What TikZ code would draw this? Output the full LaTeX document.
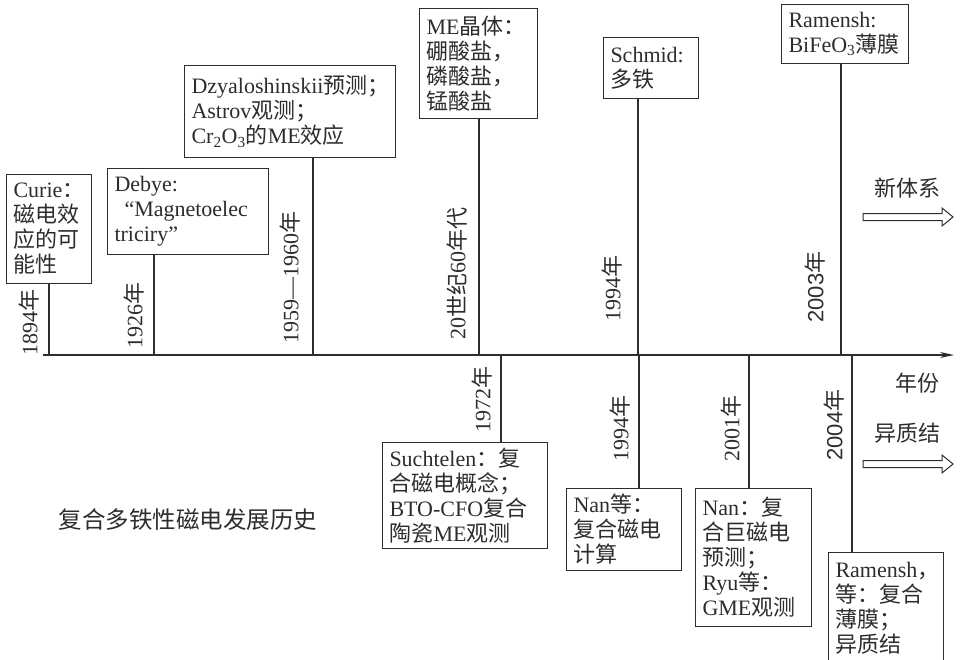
\documentclass[tikz,border=0pt]{standalone}
\usepackage{fontspec}
\setmainfont{Liberation Serif}
\newfontfamily\cjk{Noto Sans CJK SC}
\newfontfamily\lsans{Liberation Sans}
\newcommand\zh[1]{{\cjk #1}}
\usetikzlibrary{arrows.meta}
\definecolor{ink}{RGB}{45,45,45}
\begin{document}
\begin{tikzpicture}[x=1pt,y=-1pt,
  font=\fontsize{22}{25}\selectfont,
  every node/.style={text=ink},
  box/.style={draw=ink, line width=1pt, anchor=north west, align=left, inner xsep=7pt, inner ysep=0pt},
  stem/.style={draw=ink, line width=1.6pt},
  yr/.style={rotate=90, inner sep=0pt},
  hollow/.style={draw=ink, line width=1pt}]
\useasboundingbox (0,0) rectangle (963,659);

% axis
\coordinate (axs) at (43,355);
\coordinate (axe) at (954,355);
\draw[stem, -{Stealth[length=14pt,width=6pt]}] (axs) -- (axe);

% upper boxes
\node[box, minimum width=85pt, minimum height=109pt, text width=71pt] (curie) at (6,174)
  {Curie\zh{：}\\\zh{磁电效}\\\zh{应的可}\\\zh{能性}};
\node[box, minimum width=161pt, minimum height=86pt, text width=147pt] (debye) at (107,168)
  {Debye:\\\hspace*{10pt}“Magnetoelec\\triciry”};
\node[box, minimum width=211pt, minimum height=92pt, text width=197pt] (dzy) at (184,65)
  {Dzyaloshinskii\zh{预测；}\\Astrov\zh{观测；}\\Cr\textsubscript{2}O\textsubscript{3}\zh{的}ME\zh{效应}};
\node[box, minimum width=118pt, minimum height=110pt, text width=104pt] (me) at (419,8)
  {ME\zh{晶体：}\\\zh{硼酸盐，}\\\zh{磷酸盐，}\\\zh{锰酸盐}};
\node[box, minimum width=95pt, minimum height=61pt, text width=81pt] (schmid) at (603,37)
  {Schmid:\\\zh{多铁}};
\node[box, minimum width=127pt, minimum height=59pt, text width=113pt] (ramtop) at (781,4)
  {Ramensh:\\BiFeO\textsubscript{3}\zh{薄膜}};

% lower boxes
\node[box, minimum width=165pt, minimum height=106pt, text width=151pt] (such) at (382,442)
  {Suchtelen\zh{：复}\\\zh{合磁电概念；}\\BTO-CFO\zh{复合}\\\zh{陶瓷}ME\zh{观测}};
\node[box, minimum width=115pt, minimum height=82pt, text width=101pt] (nanA) at (566,488)
  {Nan\zh{等：}\\\zh{复合磁电}\\\zh{计算}};
\node[box, minimum width=116pt, minimum height=138pt, text width=102pt] (nanB) at (695,488)
  {Nan\zh{：复}\\\zh{合巨磁电}\\\zh{预测；}\\Ryu\zh{等：}\\GME\zh{观测}};
\node[box, minimum width=115pt, minimum height=112pt, text width=101pt] (ramB) at (828,552)
  {Ramensh\zh{，}\\\zh{等：复合}\\\zh{薄膜；}\\\zh{异质结}};

% stems
\coordinate (t1894) at (49,355);
\coordinate (t1926) at (154,355);
\coordinate (t1959) at (313,355);
\coordinate (t1960s) at (479,355);
\coordinate (t1994u) at (638,355);
\coordinate (t2003) at (841,355);
\coordinate (t1972) at (501,355);
\coordinate (t1994d) at (639,355);
\coordinate (t2001) at (749,355);
\coordinate (t2004) at (852,355);
\draw[stem] (t1894) -- (t1894 |- curie.south);
\draw[stem] (t1926) -- (t1926 |- debye.south);
\draw[stem] (t1959) -- (t1959 |- dzy.south);
\draw[stem] (t1960s) -- (t1960s |- me.south);
\draw[stem] (t1994u) -- (t1994u |- schmid.south);
\draw[stem] (t2003) -- (t2003 |- ramtop.south);
\draw[stem] (t1972) -- (t1972 |- such.north);
\draw[stem] (t1994d) -- (t1994d |- nanA.north);
\draw[stem] (t2001) -- (t2001 |- nanB.north);
\draw[stem] (t2004) -- (t2004 |- ramB.north);

% year labels
\node[yr] (y1894) at (29,322) {1894\zh{年}};
\node[yr] (y1926) at (134,315) {1926\zh{年}};
\node[yr] (y1959) at (290,277) {1959—1960\zh{年}};
\node[yr] (y1960s) at (457,273) {20\zh{世纪}60\zh{年代}};
\node[yr] (y1994u) at (612,288) {1994\zh{年}};
\node[yr] (y2003) at (815,287) {\lsans 2003\zh{年}};
\node[yr] (y1972) at (482,399) {1972\zh{年}};
\node[yr] (y1994d) at (620,428) {1994\zh{年}};
\node[yr] (y2001) at (731,428) {2001\zh{年}};
\node[yr] (y2004) at (834,425) {\lsans 2004\zh{年}};

% side texts and hollow arrows
\node (xin) at (907,188) {\zh{新体系}};
\node (nianfen) at (917,383) {\zh{年份}};
\node (yizhi) at (907,433) {\zh{异质结}};
\draw[hollow] (863,213.5) -- (942,213.5) -- (942,208) -- (953,217) -- (942,226) -- (942,220.5) -- (863,220.5) -- cycle;
\draw[hollow] (863,460.5) -- (942,460.5) -- (942,455) -- (953,464) -- (942,473) -- (942,467.5) -- (863,467.5) -- cycle;

% title
\node (title) at (188,520) {\fontsize{23.5}{26}\selectfont\zh{复合多铁性磁电发展历史}};
\end{tikzpicture}
\end{document}
